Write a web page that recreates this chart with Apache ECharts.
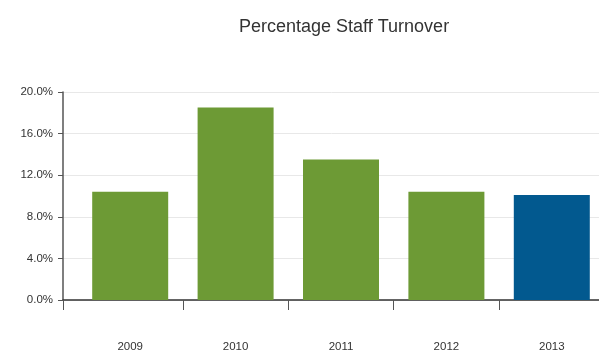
<!DOCTYPE html>
<html>
<head>
<meta charset="utf-8">
<script src="https://cdn.jsdelivr.net/npm/echarts@6/dist/echarts.min.js"></script>
<style>
  html, body { margin: 0; padding: 0; background: #fff; }
  #chart { width: 599px; height: 350px; }
</style>
</head>
<body>
<div id="chart"></div>
<script>
// Staff turnover by year (percent)
const years = ['2009', '2010', '2011', '2012', '2013'];
const turnover = [10.4, 18.5, 13.5, 10.4, 10.1];
const highlightYear = '2013';
const yTicks = [0, 4, 8, 12, 16, 20];

const GREEN = '#6d9a35';
const BLUE = '#02598f';
const FONT = '"Liberation Sans", Arial, Helvetica, sans-serif';

const chart = echarts.init(document.getElementById('chart'), null, { renderer: 'canvas' });

const yMin = yTicks[0];
const yMax = yTicks[yTicks.length - 1];
const yStep = yTicks[1] - yTicks[0];

chart.setOption({
  animation: false,
  backgroundColor: '#ffffff',
  title: {
    text: 'Percentage Staff Turnover',
    left: 234,
    top: 13,
    textStyle: { fontFamily: FONT, fontSize: 18, fontWeight: 'normal', color: '#333' }
  },
  grid: [
    // frame grid: y axis, gridlines and the baseline
    { left: 63, right: -20, top: 92, bottom: 50, containLabel: false, outerBoundsMode: 'none' },
    // bar grid
    { left: 77.5, right: -5.5, top: 92, bottom: 50, containLabel: false, outerBoundsMode: 'none' }
  ],
  xAxis: [
    {
      gridIndex: 0, type: 'value', min: 0, max: 1, interval: 1,
      axisLine: { show: true, lineStyle: { color: '#333', width: 1.5 } },
      axisTick: { show: true, length: 10, lineStyle: { color: '#555' } },
      axisLabel: { show: false },
      splitLine: { show: false }
    },
    {
      gridIndex: 1, type: 'category', data: years, boundaryGap: true,
      axisLine: { show: false },
      axisTick: {
        show: true, length: 10, lineStyle: { color: '#555' },
        interval: function (index) { return index !== 0; }
      },
      axisLabel: { margin: 41, fontFamily: FONT, fontSize: 11.5, color: '#333' },
      splitLine: { show: false }
    }
  ],
  yAxis: [
    {
      gridIndex: 0, type: 'value', min: yMin, max: yMax, interval: yStep,
      axisLine: { show: true, lineStyle: { color: '#555', width: 1.5 } },
      axisTick: { show: true, length: 5, lineStyle: { color: '#555' } },
      axisLabel: {
        margin: 10, fontFamily: FONT, fontSize: 11.5, color: '#333',
        formatter: function (v) { return v.toFixed(1) + '%'; }
      },
      splitLine: { show: true, lineStyle: { color: '#e8e8e8', width: 1 } }
    },
    {
      gridIndex: 1, type: 'value', min: yMin, max: yMax, interval: yStep,
      show: false
    }
  ],
  series: [
    {
      type: 'bar',
      xAxisIndex: 1,
      yAxisIndex: 1,
      barWidth: 76,
      data: turnover.map(function (v, i) {
        return {
          value: v,
          itemStyle: { color: years[i] === highlightYear ? BLUE : GREEN }
        };
      })
    }
  ]
});
</script>
</body>
</html>
